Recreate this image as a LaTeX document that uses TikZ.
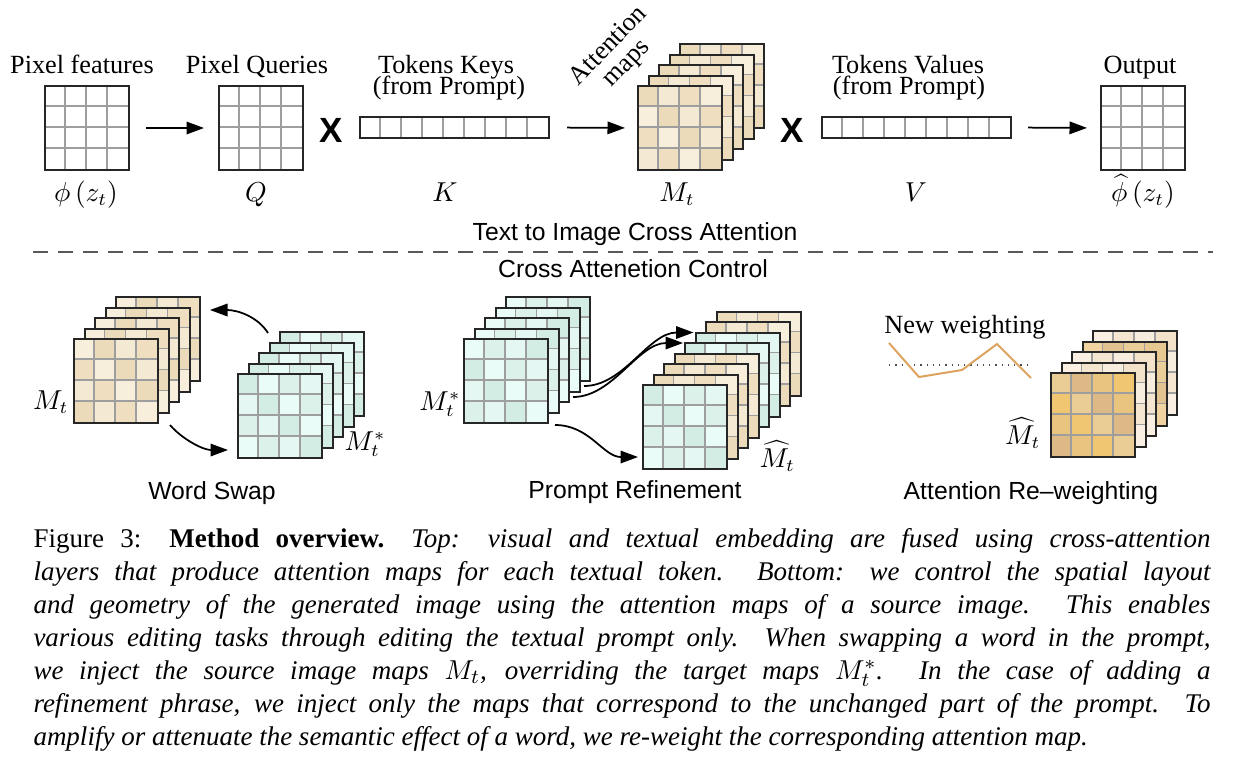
\documentclass[tikz,border=0pt]{standalone}
\usepackage{fontspec}
\setmainfont{Liberation Serif}
\setsansfont{Liberation Sans}
\usetikzlibrary{arrows.meta}

% cell palettes
\definecolor{plain0}{HTML}{FFFFFF}
\definecolor{plain1}{HTML}{FFFFFF}
\definecolor{plain2}{HTML}{FFFFFF}
\definecolor{plain3}{HTML}{FFFFFF}
\definecolor{beige0}{HTML}{EFDFC0}
\definecolor{beige1}{HTML}{F4E9D3}
\definecolor{beige2}{HTML}{ECDBBA}
\definecolor{beige3}{HTML}{F7EEDC}
\definecolor{teal0}{HTML}{DCF1EA}
\definecolor{teal1}{HTML}{E9FCF8}
\definecolor{teal2}{HTML}{D3EDE4}
\definecolor{teal3}{HTML}{E4F7F2}
\definecolor{gold0}{HTML}{E9C47E}
\definecolor{gold1}{HTML}{DDB985}
\definecolor{gold2}{HTML}{EACD95}
\definecolor{gold3}{HTML}{F0C672}
\definecolor{tan0}{HTML}{EACE99}
\definecolor{tan1}{HTML}{E1C391}
\definecolor{tan2}{HTML}{F0D3A0}
\definecolor{tan3}{HTML}{E7C890}
\definecolor{cream0}{HTML}{F7EDDE}
\definecolor{cream1}{HTML}{F3E5CF}
\definecolor{cream2}{HTML}{F9F0E3}
\definecolor{cream3}{HTML}{F2E2CA}
\definecolor{wline}{HTML}{DDA35E}

\def\capw{470.8pt}

% one 4x4 map: name, x, y (top left), palette
\newcommand{\maplayer}[4]{%
  \foreach \i in {0,...,3}{
    \foreach \j in {0,...,3}{
      \pgfmathtruncatemacro{\k}{mod(\i*3+\j*5+#2+#3,4)}
      \fill[#4\k] (#2+\i*21,#3+\j*21) rectangle ++(21,21);
    }
  }
  \foreach \i in {1,2,3}{
    \draw[cellline] (#2+\i*21,#3) -- ++(0,84);
    \draw[cellline] (#2,#3+\i*21) -- ++(84,0);
  }
  \node[mapframe] (#1) at (#2,#3) {};
}

% a stack of maps: name, front x, front y, layers, palettes (back to front)
\newcommand{\mapstack}[5]{%
  \foreach \pal [count=\c] in {#5}{
    \pgfmathtruncatemacro{\lk}{#4-\c}
    \pgfmathsetmacro{\lx}{#2+10.5*\lk}
    \pgfmathsetmacro{\ly}{#3-10.5*\lk}
    \maplayer{#1-\lk}{\lx}{\ly}{\pal}
  }
}

% token row of 9 cells: name, x, y
\newcommand{\tokenbar}[3]{%
  \foreach \i in {1,...,8}{
    \draw[cellline] (#2+\i*21,#3) -- ++(0,21);
  }
  \node[barframe] (#1) at (#2,#3) {};
}

\begin{document}
\begin{tikzpicture}[x=0.4pt, y=-0.4pt]

  \tikzstyle{cellline} = [black!38, line width=0.5pt]
  \tikzstyle{mapframe} = [draw=black!85, line width=0.8pt, anchor=north west, inner sep=0, minimum width=33.6pt, minimum height=33.6pt]
  \tikzstyle{barframe} = [draw=black!85, line width=0.8pt, anchor=north west, inner sep=0, minimum width=75.6pt, minimum height=8.4pt]
  \tikzstyle{arr}      = [-{Triangle[length=7pt,width=5pt]}, line width=0.7pt]
  \tikzstyle{lbl}      = [font=\fontsize{10.5}{12}\selectfont, anchor=base, inner sep=0]
  \tikzstyle{sflbl}    = [font=\fontsize{9.9}{11}\selectfont\sffamily, anchor=base, inner sep=0]
  \tikzstyle{times}    = [font=\fontsize{14}{14}\selectfont\sffamily\bfseries, inner sep=0]
  \tikzstyle{capt}     = [font=\fontsize{10.8}{13.2}\selectfont, anchor=north west, inner sep=0, text width=\capw, align=justify]

  \useasboundingbox (0,0) rectangle (1245,762);

  % ---- TOP: CROSS ATTENTION ----
  \maplayer{pf}{44}{85}{plain}
  \maplayer{pq}{218}{85}{plain}
  \tokenbar{kbar}{359}{116}
  \mapstack{atn}{637}{85}{5}{beige,beige,beige,beige,beige}
  \tokenbar{vbar}{821}{116}
  \maplayer{out}{1100}{85}{plain}

  \node[times] (x1) at (331,130) {X};
  \node[times] (x2) at (792,130) {X};

  \draw[arr, shorten <=6.4pt, shorten >=5.6pt] (pf.east) -- (pq.west);
  \draw[arr, shorten <=6.8pt, shorten >=4.8pt] (kbar.east) -- (atn-0.west);
  \draw[arr, shorten <=6.4pt, shorten >=5.2pt] (vbar.east) -- (out.west);

  \node[lbl] (pflbl) at (82,73) {Pixel features};
  \node[lbl] (pqlbl) at (257,73) {Pixel Queries};
  \node[lbl] (klblA) at (446,73) {Tokens Keys};
  \node[lbl] (klblB) at (449,94) {(from Prompt)};
  \node[lbl, anchor=center, rotate=46, align=center, font=\fontsize{10.5}{10}\selectfont] (atnlbl) at (618,55) {Attention\\maps};
  \node[lbl] (vlblA) at (908,73) {Tokens Values};
  \node[lbl] (vlblB) at (909,94) {(from Prompt)};
  \node[lbl] (outlbl) at (1140,73) {Output};

  \node[lbl] (phi) at (86,201) {$\phi\left(z_t\right)$};
  \node[lbl] (qsym) at (256,201) {$Q$};
  \node[lbl] (ksym) at (445,201) {$K$};
  \node[lbl] (msym) at (677,201) {$M_t$};
  \node[lbl] (vsym) at (916,201) {$V$};
  \node[lbl] (phihat) at (1143,201) {$\widehat{\phi}\left(z_t\right)$};

  % ---- DIVIDER ----
  \node[sflbl] (toplbl) at (635,240) {Text to Image Cross Attention};
  \draw[black!65, line width=0.6pt, dash pattern=on 6pt off 4pt] (33,252) -- (1213,252);
  \node[sflbl] (botlbl) at (633,277) {Cross Attenetion Control};

  % ---- WORD SWAP ----
  \mapstack{wsA}{73}{338}{5}{beige,beige,beige,beige,beige}
  \mapstack{wsB}{237}{373}{5}{teal,teal,teal,teal,teal}
  \draw[arr] ([shift={(-11,2)}]wsB-4.north west) .. controls +(-10,-16) and +(28,0) .. ([shift={(9,14)}]wsA-4.north east);
  \draw[arr] ([shift={(11,1)}]wsA-0.south east) .. controls +(12,14) and +(-25,0) .. ([shift={(-9,-9)}]wsB-0.south west);
  \node[lbl, anchor=base east] (wsAlbl) at (69,409) {$M_t$};
  \node[lbl, anchor=base west] (wsBlbl) at (344,450) {$M_t^*$};
  \node[sflbl] (wslbl) at (212,499) {Word Swap};

  % ---- PROMPT REFINEMENT ----
  \mapstack{prA}{463}{338}{5}{teal,teal,teal,teal,teal}
  \mapstack{prB}{642}{384}{8}{beige,beige,teal,teal,beige,beige,beige,teal}
  \draw[arr] ([shift={(3.5,-6.5)}]prA-3.south east) .. controls +(40,0) and +(-45,0) .. ([shift={(-1,1)}]prB-5.north west);
  \draw[arr] ([shift={(3,-6)}]prA-2.south east) .. controls +(40,0) and +(-45,0) .. ([shift={(-1,1)}]prB-4.north west);
  \draw[arr] ([shift={(6,1)}]prA-0.south east) .. controls +(35,0) and +(-35,0) .. ([shift={(-4,-13)}]prB-0.south west);
  \node[lbl, anchor=base east] (prAlbl) at (461,410) {$M_t^*$};
  \node[lbl, anchor=base west] (prBlbl) at (759,467) {$\widehat{M}_t$};
  \node[sflbl] (prlbl) at (635,498) {Prompt Refinement};

  % ---- ATTENTION RE-WEIGHTING ----
  \node[lbl] (nwlbl) at (965,333) {New weighting};
  \draw[black!70, line width=0.5pt, dotted] (889,365) -- (1032,365);
  \draw[wline, line width=0.8pt] (889,343) -- (919,377) -- (962,370) -- (997,344) -- (1031,378);
  \mapstack{rw}{1050}{372}{5}{cream,tan,cream,cream,gold}
  \node[lbl, anchor=base east] (rwlbl) at (1041,444) {$\widehat{M}_t$};
  \node[sflbl] (rwtitle) at (1031,499) {Attention Re–weighting};

  % ---- CAPTION ----
  \node[capt] (caption) at (33,528) {%
    \makebox[\capw][s]{Figure 3: \textbf{Method overview.}\quad \textit{Top: visual and textual embedding are fused using cross-attention}}\\
    \makebox[\capw][s]{\itshape layers that produce attention maps for each textual token. Bottom: we control the spatial layout}\\
    \makebox[\capw][s]{\itshape and geometry of the generated image using the attention maps of a source image. This enables}\\
    \makebox[\capw][s]{\itshape various editing tasks through editing the textual prompt only. When swapping a word in the prompt,}\\
    \makebox[\capw][s]{\itshape we inject the source image maps $M_t$, overriding the target maps $M_t^*$. In the case of adding a}\\
    \makebox[\capw][s]{\itshape refinement phrase, we inject only the maps that correspond to the unchanged part of the prompt. To}\\
    {\itshape amplify or attenuate the semantic effect of a word, we re-weight the corresponding attention map.}};

\end{tikzpicture}
\end{document}
